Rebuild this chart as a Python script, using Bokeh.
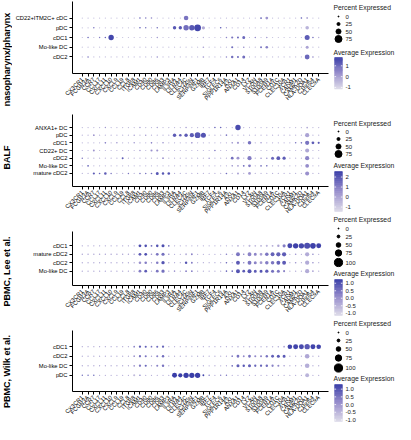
import math
from bokeh.plotting import figure
from bokeh.layouts import column, row
from bokeh.models import ColumnDataSource, FactorRange, Range1d, LinearInterpolator
from bokeh.transform import linear_cmap, transform
from bokeh.core.properties import value
from bokeh.embed import file_html
from bokeh.resources import INLINE

FONT = "Liberation Sans"

GENES = ["CX3CR1", "FCGR3A", "CCR7", "CCL17", "CXCL11", "CXCL10",
         "CXCL9", "CCL19", "CCL8", "ITGB8", "ICAM1", "CD40",
         "CD80", "CD86", "CD83", "LAMP3", "IL3RA", "LILRA4",
         "CLEC4C", "JCHAIN", "SERPINF1", "GZMB", "IRF7", "TCF4",
         "SIGLEC6", "PPP1R14A", "AXL", "ANXA1", "CD14", "LYZ",
         "VCAN", "S100A8", "S100A9", "FCER1A", "CD1C", "CLEC10A",
         "XCR1", "CADM1", "CAMK2D", "HLA-DQA1", "C1orf54", "CLEC9A"]

PANEL_TITLES = ["nasopharynx/pharynx", "BALF", "PBMC, Lee et al.", "PBMC, Wilk et al."]

# ---------------- nasopharynx/pharynx ----------------
NASAL_ROWS = ["CD22+ITM2C+ cDC", "pDC", "cDC1", "Mo-like DC", "cDC2"]
NASAL_PCT = [
    [3, 3, 3, 3, 3, 3, 3, 3, 3, 3, 8, 8, 7, 3, 3, 3, 3, 3, 45, 3, 3, 3, 3, 3,
     3, 3, 3, 3, 3, 3, 3, 9, 22, 3, 3, 3, 3, 3, 8, 12, 3, 3],
    [3, 3, 6, 3, 3, 3, 3, 3, 3, 3, 7, 6, 3, 7, 3, 3, 30, 30, 55, 55, 72, 28, 3, 3,
     8, 4, 3, 3, 3, 3, 3, 3, 3, 3, 3, 3, 3, 3, 3, 32, 3, 3],
    [3, 7, 3, 6, 7, 55, 3, 3, 3, 3, 3, 3, 3, 5, 3, 3, 3, 3, 3, 3, 3, 4, 3, 3,
     3, 7, 15, 12, 25, 3, 6, 3, 6, 3, 3, 3, 3, 3, 3, 50, 8, 4],
    [3, 3, 3, 3, 3, 3, 3, 3, 3, 3, 3, 3, 3, 3, 3, 3, 3, 3, 3, 3, 3, 8, 3, 3,
     3, 3, 14, 3, 8, 3, 3, 10, 20, 3, 3, 3, 3, 3, 3, 25, 3, 3],
    [3, 7, 3, 3, 3, 3, 3, 3, 3, 3, 3, 3, 3, 6, 3, 3, 3, 3, 3, 3, 3, 8, 3, 3,
     3, 6, 18, 12, 25, 3, 3, 3, 3, 3, 3, 3, 3, 3, 3, 48, 8, 3],
]
NASAL_AVG = [
    [-0.6, -0.5, -0.6, -0.6, -0.6, -0.6, -0.6, -0.6, -0.6, -0.5, 1.0, 0.6,
     0.5, -0.5, -0.6, -0.6, -0.5, -0.5, 0.8, -0.5, -0.5, -0.6, -0.6, -0.6,
     -0.6, -0.5, -0.5, -0.5, -0.5, -0.5, -0.5, 1.2, 0.2, -0.5, -0.6, -0.6,
     -0.6, -0.5, 1.2, -0.3, -0.6, -0.6],
    [-0.6, -0.6, 0.8, -0.6, -0.6, -0.6, -0.6, -0.6, -0.6, -0.6, 1.2, 0.9,
     -0.5, 0.9, -0.5, -0.5, 1.3, 1.3, 0.9, 1.3, 1.6, -0.2, -0.5, -0.5,
     1.2, 0.0, -0.5, -0.5, -0.6, -0.6, -0.6, -0.6, -0.6, -0.6, -0.6, -0.6,
     -0.6, -0.6, -0.6, -0.4, -0.6, -0.6],
    [-0.6, 1.0, -0.6, 0.6, 1.0, 1.6, -0.6, -0.6, -0.6, -0.6, -0.5, -0.5,
     -0.5, 0.3, -0.6, -0.6, -0.6, -0.6, -0.6, -0.6, -0.6, -0.3, -0.6, -0.6,
     -0.6, 0.5, 0.8, 1.0, 1.0, -0.5, 0.4, -0.5, 0.2, -0.6, -0.6, -0.6,
     -0.6, -0.6, -0.5, 1.2, 0.8, -0.3],
    [-0.7, -0.7, -0.7, -0.7, -0.7, -0.7, -0.7, -0.7, -0.7, -0.7, -0.6, -0.6,
     -0.6, -0.6, -0.7, -0.7, -0.7, -0.7, -0.7, -0.7, -0.7, 0.0, -0.7, -0.7,
     -0.7, -0.6, 0.9, -0.6, 0.3, -0.6, -0.6, 1.0, 0.6, -0.6, -0.7, -0.7,
     -0.7, -0.7, -0.6, -0.1, -0.6, -0.7],
    [-0.6, 0.8, -0.6, -0.6, -0.6, -0.6, -0.6, -0.6, -0.6, -0.6, -0.5, -0.5,
     -0.5, 0.4, -0.6, -0.6, -0.6, -0.6, -0.6, -0.6, -0.6, 0.2, -0.6, -0.6,
     -0.6, 0.5, 0.9, 1.0, 0.9, -0.5, -0.5, -0.5, -0.5, -0.6, -0.6, -0.6,
     -0.6, -0.6, -0.5, 1.0, 0.4, -0.6],
]

# ---------------- BALF ----------------
BALF_ROWS = ["ANXA1+ DC", "pDC", "cDC1", "CD22+ DC", "cDC2", "Mo-like DC", "mature cDC2"]
BALF_PCT = [
    [3, 3, 3, 3, 5, 3, 3, 3, 3, 3, 6, 3, 3, 6, 3, 3, 3, 3, 6, 3, 3, 3, 3, 8,
     8, 3, 3, 55, 3, 3, 3, 3, 3, 3, 3, 3, 3, 3, 3, 10, 3, 3],
    [3, 3, 10, 3, 3, 3, 3, 3, 3, 5, 3, 5, 3, 3, 3, 3, 30, 20, 30, 40, 60, 50, 3, 3,
     3, 8, 3, 3, 3, 3, 3, 3, 3, 3, 3, 3, 3, 3, 3, 40, 3, 3],
    [3, 3, 3, 3, 8, 3, 6, 3, 3, 6, 3, 3, 8, 3, 7, 3, 3, 3, 3, 8, 3, 3, 3, 3,
     3, 3, 8, 15, 3, 32, 3, 6, 3, 3, 3, 3, 3, 7, 8, 40, 22, 14],
    [3, 3, 12, 3, 3, 3, 3, 3, 3, 3, 6, 3, 14, 14, 3, 3, 3, 3, 3, 3, 3, 3, 3, 8,
     3, 3, 3, 3, 3, 3, 3, 3, 3, 3, 3, 3, 3, 3, 3, 38, 3, 3],
    [7, 3, 3, 3, 3, 3, 3, 12, 3, 3, 3, 3, 3, 3, 10, 3, 3, 3, 3, 3, 3, 3, 6, 3,
     3, 3, 22, 24, 3, 40, 3, 7, 6, 25, 35, 28, 3, 3, 3, 40, 3, 3],
    [3, 9, 3, 3, 3, 3, 3, 3, 3, 3, 3, 3, 3, 3, 3, 3, 3, 3, 3, 3, 3, 3, 3, 3,
     3, 3, 8, 9, 10, 22, 3, 9, 8, 3, 3, 3, 3, 3, 3, 35, 3, 3],
    [3, 3, 15, 8, 20, 6, 3, 3, 6, 3, 7, 7, 8, 25, 20, 20, 3, 3, 3, 3, 3, 3, 3, 3,
     3, 8, 3, 10, 3, 22, 3, 3, 3, 3, 3, 3, 3, 3, 3, 38, 3, 3],
]
BALF_AVG = [
    [-0.4, -0.4, -0.4, -0.4, 0.3, -0.4, -0.4, -0.4, -0.4, -0.4, 0.2, -0.4,
     -0.4, 0.0, -0.4, -0.4, -0.4, -0.4, 0.3, -0.4, -0.4, -0.4, -0.4, 1.5,
     1.5, -0.4, -0.3, 2.2, -0.3, -0.3, -0.4, -0.4, -0.4, -0.4, -0.4, -0.4,
     -0.4, -0.4, -0.4, -0.2, -0.4, -0.4],
    [-0.4, -0.4, 0.3, -0.4, -0.4, -0.4, -0.4, -0.4, -0.4, 0.3, -0.4, 0.4,
     -0.4, -0.4, -0.4, -0.3, 1.8, 1.7, 1.8, 1.8, 1.9, 2.0, -0.3, -0.3,
     -0.3, 1.2, -0.4, -0.4, -0.4, -0.4, -0.4, -0.4, -0.4, -0.4, -0.4, -0.4,
     -0.4, -0.4, -0.4, 0.0, -0.4, -0.4],
    [-0.4, -0.4, -0.4, -0.4, 1.0, -0.4, 0.5, -0.4, -0.4, 0.5, -0.4, -0.4,
     1.0, -0.4, 0.6, -0.4, -0.4, -0.4, -0.4, 0.5, -0.4, -0.4, -0.4, -0.4,
     -0.4, -0.3, 0.5, 0.2, -0.3, 1.2, -0.3, 0.5, -0.3, -0.3, -0.3, -0.3,
     -0.3, 1.2, 1.3, 1.2, 1.8, 1.8],
    [-0.4, -0.4, 0.4, -0.4, -0.4, -0.4, -0.4, -0.4, -0.4, -0.4, 0.3, -0.4,
     0.5, 0.4, -0.4, -0.4, -0.4, -0.4, -0.4, -0.4, -0.4, -0.4, -0.4, 1.0,
     -0.4, -0.4, -0.4, -0.4, -0.4, -0.4, -0.4, -0.4, -0.4, -0.4, -0.4, -0.4,
     -0.4, -0.4, -0.4, -0.1, -0.4, -0.4],
    [1.0, -0.4, -0.4, -0.4, -0.4, -0.4, -0.4, 1.8, -0.4, -0.4, -0.4, -0.4,
     -0.4, -0.4, 0.5, -0.4, -0.4, -0.4, -0.4, -0.4, -0.4, -0.4, 0.5, -0.4,
     -0.4, -0.3, 1.3, 0.4, -0.3, 1.0, -0.3, 0.5, 0.5, 1.5, 1.8, 1.8,
     -0.4, -0.4, -0.4, 0.8, -0.4, -0.4],
    [-0.4, 1.6, -0.4, -0.4, -0.4, -0.4, -0.4, -0.4, -0.4, -0.4, -0.4, -0.4,
     -0.4, -0.4, -0.4, -0.4, -0.4, -0.4, -0.4, -0.4, -0.4, -0.4, -0.4, -0.4,
     -0.4, -0.3, 0.5, 0.3, 1.5, 1.0, -0.3, 1.3, 1.3, -0.3, -0.3, -0.3,
     -0.4, -0.4, -0.4, 0.6, -0.4, -0.4],
    [-0.4, -0.4, 1.8, 1.6, 1.8, 1.2, -0.4, -0.4, 1.2, -0.4, 1.2, 1.2,
     1.5, 1.9, 1.9, 2.0, -0.4, -0.4, -0.4, -0.4, -0.4, -0.4, -0.4, -0.4,
     -0.4, 1.4, -0.4, 0.3, -0.4, 0.2, -0.4, -0.4, -0.4, -0.4, -0.4, -0.4,
     -0.4, -0.4, -0.4, 0.5, -0.4, -0.4],
]

# ---------------- PBMC, Lee et al. ----------------
LEE_ROWS = ["cDC1", "mature cDC2", "cDC2", "Mo-like DC"]
LEE_PCT = [
    [5, 5, 5, 5, 5, 5, 5, 5, 5, 5, 25, 22, 12, 22, 28, 10, 4, 4, 4, 4, 4, 4, 4, 4,
     4, 4, 4, 12, 4, 15, 10, 12, 15, 12, 20, 30, 55, 60, 60, 70, 65, 55],
    [6, 6, 6, 6, 6, 6, 6, 6, 6, 6, 25, 25, 8, 25, 30, 8, 4, 4, 12, 12, 4, 4, 4, 4,
     4, 8, 4, 40, 8, 40, 28, 25, 35, 40, 45, 45, 4, 8, 4, 45, 8, 4],
    [5, 5, 5, 5, 5, 5, 5, 5, 5, 5, 22, 22, 5, 22, 32, 5, 4, 4, 20, 12, 4, 4, 4, 4,
     4, 8, 4, 40, 8, 40, 28, 25, 35, 35, 40, 40, 4, 8, 4, 45, 8, 4],
    [5, 5, 5, 5, 5, 5, 5, 5, 5, 5, 25, 25, 5, 25, 32, 5, 8, 4, 12, 10, 4, 4, 4, 4,
     4, 8, 8, 42, 25, 42, 28, 28, 32, 28, 28, 15, 4, 5, 4, 45, 8, 4],
]
LEE_AVG = [
    [-0.3, -0.3, -0.3, -0.3, -0.3, -0.3, -0.3, -0.3, -0.3, -0.3, 1.0, 1.0,
     0.6, 0.9, 1.0, 0.5, -0.4, -0.4, -0.4, -0.4, -0.4, -0.4, -0.4, -0.4,
     -0.4, -0.4, -0.4, -0.5, -0.4, -0.6, -0.6, -0.5, -0.6, -0.4, -0.3, 0.3,
     1.1, 1.2, 1.1, 1.0, 1.2, 1.2],
    [-0.3, -0.3, -0.3, -0.3, -0.3, -0.3, -0.3, -0.3, -0.3, -0.3, 0.8, 1.0,
     0.0, 0.4, 0.5, 0.0, -0.4, -0.4, -0.5, 0.2, -0.4, -0.4, -0.4, -0.4,
     -0.4, 0.3, -0.4, 0.4, 0.2, 0.2, 0.2, -0.2, 0.4, 0.7, 0.7, 0.8,
     -0.4, 0.0, -0.4, -0.4, 0.2, -0.4],
    [-0.4, -0.4, -0.4, -0.4, -0.4, -0.4, -0.4, -0.4, -0.4, -0.4, 0.0, 0.3,
     -0.3, 0.3, 0.9, -0.3, -0.4, -0.4, 0.9, 0.3, -0.4, -0.4, -0.4, -0.4,
     -0.4, 0.7, -0.4, 0.8, 0.2, 0.4, 0.2, -0.1, 0.3, 0.4, 0.7, 0.8,
     -0.4, 0.0, -0.4, -0.4, 0.1, -0.4],
    [-0.3, -0.3, -0.3, -0.3, -0.3, -0.3, -0.3, -0.3, -0.3, -0.3, 0.3, 0.8,
     -0.3, 0.4, 0.5, -0.3, 0.0, -0.4, 0.2, 0.3, -0.4, -0.4, -0.4, -0.4,
     -0.4, 0.7, 0.8, 0.9, 0.8, 0.9, 0.8, 0.9, 0.8, 0.5, 0.4, 0.2,
     -0.4, -0.3, -0.4, -0.4, 0.0, -0.4],
]

# ---------------- PBMC, Wilk et al. ----------------
WILK_ROWS = ["cDC1", "cDC2", "Mo-like DC", "pDC"]
WILK_PCT = [
    [4, 4, 4, 4, 4, 4, 4, 4, 4, 10, 18, 15, 10, 15, 18, 4, 4, 4, 4, 4, 4, 4, 4, 4,
     4, 4, 4, 8, 4, 8, 6, 6, 8, 6, 8, 10, 50, 55, 55, 60, 55, 50],
    [4, 4, 4, 4, 4, 4, 4, 4, 4, 10, 18, 15, 5, 15, 20, 4, 4, 4, 4, 4, 4, 4, 4, 4,
     4, 4, 10, 25, 12, 25, 15, 15, 20, 25, 28, 28, 4, 4, 4, 50, 4, 4],
    [4, 4, 4, 4, 4, 4, 4, 4, 4, 10, 18, 16, 5, 15, 20, 4, 4, 4, 4, 4, 4, 4, 4, 4,
     4, 4, 10, 28, 20, 28, 18, 18, 20, 18, 15, 8, 4, 4, 4, 50, 4, 4],
    [5, 5, 5, 4, 4, 4, 4, 4, 4, 15, 5, 4, 4, 4, 4, 4, 55, 45, 60, 60, 60, 12, 6, 4,
     6, 6, 4, 4, 4, 4, 4, 4, 4, 4, 4, 4, 4, 4, 4, 40, 4, 4],
]
WILK_AVG = [
    [-0.3, -0.3, -0.3, -0.3, -0.3, -0.3, -0.3, -0.3, -0.3, 0.3, 0.8, 0.8,
     0.5, 0.6, 0.7, -0.4, -0.4, -0.4, -0.4, -0.4, -0.4, -0.4, -0.4, -0.4,
     -0.4, -0.4, -0.4, -0.5, -0.4, -0.5, -0.5, -0.5, -0.5, -0.5, -0.4, -0.2,
     1.2, 1.2, 1.1, 0.9, 1.2, 1.2],
    [-0.4, -0.4, -0.4, -0.4, -0.4, -0.4, -0.4, -0.4, -0.4, 0.0, 0.5, 0.5,
     -0.2, 0.3, 0.6, -0.4, -0.4, -0.4, -0.4, -0.4, -0.4, -0.4, -0.4, -0.4,
     -0.4, -0.4, 0.3, 0.5, 0.2, 0.5, 0.2, 0.2, 0.5, 0.8, 0.9, 0.9,
     -0.4, -0.4, -0.4, -0.3, -0.4, -0.4],
    [-0.3, -0.3, -0.3, -0.3, -0.3, -0.3, -0.3, -0.3, -0.3, 0.0, 0.4, 0.7,
     -0.2, 0.3, 0.5, -0.4, -0.4, -0.4, -0.4, -0.4, -0.4, -0.4, -0.4, -0.4,
     -0.4, -0.4, 0.6, 0.8, 0.9, 0.8, 0.7, 0.7, 0.6, 0.3, 0.2, -0.1,
     -0.4, -0.4, -0.4, -0.4, -0.4, -0.4],
    [0.7, 0.8, 0.9, -0.3, -0.3, -0.3, -0.3, -0.3, -0.3, -0.6, 0.6, -0.3,
     -0.3, -0.3, -0.3, -0.3, 1.3, 1.3, 1.3, 1.3, 1.3, 1.2, 0.5, -0.3,
     0.3, 0.5, -0.3, -0.3, -0.3, -0.3, -0.3, -0.3, -0.3, -0.3, -0.3, -0.3,
     -0.3, -0.3, -0.3, -0.5, -0.3, -0.3],
]

for tbl in (NASAL_PCT, NASAL_AVG, BALF_PCT, BALF_AVG, LEE_PCT, LEE_AVG, WILK_PCT, WILK_AVG):
    for r in tbl:
        assert len(r) == len(GENES), len(r)


def make_palette(n=256):
    stops = [(0.0, (220, 218, 232)), (0.5, (152, 142, 204)), (1.0, (58, 62, 168))]
    out = []
    for i in range(n):
        t = i / (n - 1)
        for (t0, c0), (t1, c1) in zip(stops[:-1], stops[1:]):
            if t0 <= t <= t1:
                f = (t - t0) / (t1 - t0)
                rgb = tuple(int(round(a + (b - a) * f)) for a, b in zip(c0, c1))
                break
        out.append("#%02x%02x%02x" % rgb)
    return out


PALETTE = make_palette()
TITLE_W = 12
LEG_W = 63
MAIN_W = 395 - TITLE_W - LEG_W
TOTAL_H = 424
BORDER_L, BORDER_R, BORDER_B = 57, 4, 30
PAD = 0.6  # half of the categorical expansion on each side


def dot_panel(rows, pct, avg, lo, hi, size_max, height, top):
    gx, gy, gp, ga = [], [], [], []
    for cell, prow, arow in zip(rows, pct, avg):
        for gene, pv, av in zip(GENES, prow, arow):
            gx.append(gene); gy.append(cell); gp.append(pv); ga.append(av)
    src = ColumnDataSource(dict(gene=gx, cell=gy, pct=gp, avg=ga))
    p = figure(width=MAIN_W, height=height,
               x_range=FactorRange(factors=GENES, range_padding=2 * PAD, range_padding_units="absolute"),
               y_range=FactorRange(factors=list(reversed(rows)), range_padding=2 * PAD,
                                   range_padding_units="absolute"),
               output_backend="svg", toolbar_location=None,
               min_border_left=BORDER_L, min_border_right=BORDER_R, min_border_top=top,
               min_border_bottom=BORDER_B)
    p.scatter(x="gene", y="cell", source=src,
              size=transform("pct", LinearInterpolator(x=[0, 100], y=[1.0, size_max])),
              fill_color=linear_cmap("avg", PALETTE, lo, hi), line_color=None)
    p.xgrid.grid_line_color = None
    p.ygrid.grid_line_color = None
    p.outline_line_color = None
    for ax in (p.xaxis[0], p.yaxis[0]):
        ax.axis_line_color = "black"
        ax.axis_line_width = 1
        ax.major_tick_line_color = "black"
        ax.major_tick_line_width = 1
        ax.major_tick_in = 0
        ax.major_tick_out = 3
        ax.major_label_text_font = FONT
        ax.major_label_text_color = "black"
        ax.major_label_text_font_size = "5.8px"
        ax.major_label_standoff = 2
    p.xaxis.major_label_orientation = math.pi / 4
    return p


p1 = dot_panel(NASAL_ROWS, NASAL_PCT, NASAL_AVG, -1.15, 1.77, 9.0, 106, 1)
p2 = dot_panel(BALF_ROWS, BALF_PCT, BALF_AVG, -1.45, 2.55, 9.0, 113, 8)
p3 = dot_panel(LEE_ROWS, LEE_PCT, LEE_AVG, -1.15, 1.25, 8.2, 99, 12)
p4 = dot_panel(WILK_ROWS, WILK_PCT, WILK_AVG, -1.1, 1.3, 8.2, 106, 12)

# ---------------- panel titles (strip on the left) ----------------
ttl = figure(width=TITLE_W, height=TOTAL_H, x_range=Range1d(0, TITLE_W), y_range=Range1d(0, TOTAL_H),
             output_backend="svg", toolbar_location=None, min_border=0,
             x_axis_type=None, y_axis_type=None)
ttl.outline_line_color = None
ttl.xgrid.visible = False
ttl.ygrid.visible = False
TITLE_CENTER = [59, 157, 271, 371]   # distance from the top of the page area
ttl.text(x=[6.5] * 4, y=[TOTAL_H - c for c in TITLE_CENTER], text=PANEL_TITLES, angle=math.pi / 2,
         text_font=value(FONT), text_font_size="9px", text_font_style="bold",
         text_align="center", text_baseline="middle", text_color="black")

# ---------------- legends ----------------
LEGENDS = [
    dict(t=6.5, levels=[0, 25, 50, 75], ly=[16, 23.5, 31, 38.5], smax=9.0, ae=51.5,
         bar=(57, 88.5), lo=-1.15, hi=1.77, ticks=[1, 0, -1], tl=["1", "0", "-1"]),
    dict(t=122.5, levels=[0, 25, 50, 75], ly=[131, 138.5, 146, 153.5], smax=9.0, ae=165,
         bar=(171, 211), lo=-1.45, hi=2.55, ticks=[2, 1, 0, -1], tl=["2", "1", "0", "-1"]),
    dict(t=218.5, levels=[0, 25, 50, 75, 100], ly=[228, 236, 244.5, 252.5, 262], smax=8.2, ae=273,
         bar=(279, 315), lo=-1.15, hi=1.25, ticks=[1, 0.5, 0, -0.5, -1],
         tl=["1.0", "0.5", "0.0", "-0.5", "-1.0"]),
    dict(t=323, levels=[0, 25, 50, 75, 100], ly=[332, 340, 348.5, 357.5, 367.5], smax=8.2, ae=378,
         bar=(384, 421), lo=-1.1, hi=1.3, ticks=[1, 0.5, 0, -0.5, -1],
         tl=["1.0", "0.5", "0.0", "-0.5", "-1.0"]),
]

leg = figure(width=LEG_W, height=TOTAL_H, x_range=Range1d(0, LEG_W), y_range=Range1d(TOTAL_H, 0),
             output_backend="svg", toolbar_location=None, min_border=0,
             x_axis_type=None, y_axis_type=None)
leg.outline_line_color = None
leg.xgrid.visible = False
leg.ygrid.visible = False

TXT = dict(text_font=value(FONT), text_color="#1a1a1a", text_baseline="middle", text_align="left")
for spec in LEGENDS:
    leg.text(x=[1, 1], y=[spec["t"], spec["ae"]], text=["Percent Expressed", "Average Expression"],
             text_font_size="6.8px", **TXT)
    lsrc = ColumnDataSource(dict(x=[6] * len(spec["levels"]), y=spec["ly"], pct=spec["levels"]))
    leg.scatter(x="x", y="y", source=lsrc, color="black",
                size=transform("pct", LinearInterpolator(x=[0, 100], y=[1.0, spec["smax"]])))
    leg.text(x=[13] * len(spec["levels"]), y=spec["ly"], text=[str(v) for v in spec["levels"]],
             text_font_size="6px", **TXT)
    top, bot = spec["bar"]
    lo, hi = spec["lo"], spec["hi"]
    n = 60
    vs, tops, bots = [], [], []
    for k in range(n):
        vs.append(hi - (k + 0.5) / n * (hi - lo))
        tops.append(top + k / n * (bot - top) - 0.3)
        bots.append(top + (k + 1) / n * (bot - top) + 0.3)
    bsrc = ColumnDataSource(dict(v=vs, top=tops, bottom=bots, left=[2] * n, right=[10] * n))
    leg.quad(left="left", right="right", top="top", bottom="bottom", source=bsrc,
             fill_color=linear_cmap("v", PALETTE, lo, hi), line_color=None)
    ty = [top + (hi - t) / (hi - lo) * (bot - top) for t in spec["ticks"]]
    leg.segment(x0=[2] * len(ty), x1=[3.6] * len(ty), y0=ty, y1=ty, line_color="white", line_width=0.8)
    leg.segment(x0=[8.4] * len(ty), x1=[10] * len(ty), y0=ty, y1=ty, line_color="white", line_width=0.8)
    leg.text(x=[13] * len(ty), y=ty, text=spec["tl"], text_font_size="6px", **TXT)

layout = row(ttl, column(p1, p2, p3, p4, spacing=0), leg, spacing=0)
open("out.html", "w").write(file_html(layout, INLINE))
